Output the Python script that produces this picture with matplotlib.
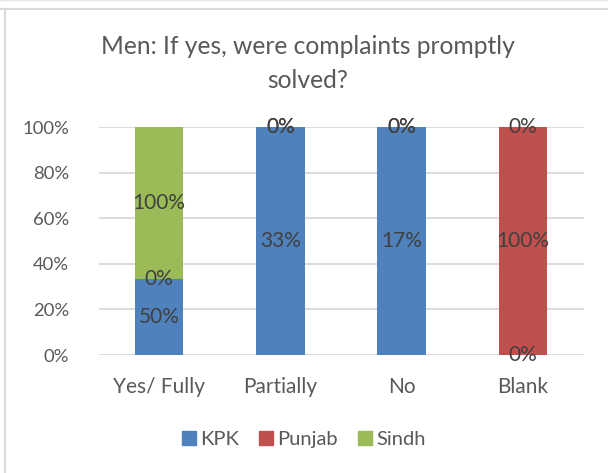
import matplotlib
matplotlib.use("Agg")
import matplotlib.pyplot as plt
import numpy as np
from matplotlib.lines import Line2D

categories = ["Yes/ Fully", "Partially", "No", "Blank"]
series_names = ["KPK", "Punjab", "Sindh"]
kpk = [50, 33, 17, 0]
punjab = [0, 0, 0, 100]
sindh = [100, 0, 0, 0]
colors = ["#4F81BD", "#C0504D", "#9BBB59"]
y_ticks = [0, 20, 40, 60, 80, 100]

plt.rcParams['font.family'] = ['Lato', 'DejaVu Sans']

fig = plt.figure(figsize=(6.08, 4.73), dpi=100)
ax = fig.add_axes([98.5/608, 1-355/473, (583.6-98.5)/608, (355-127)/473])

raw = np.array([kpk, punjab, sindh], dtype=float)
tot = raw.sum(axis=0)
share = raw / tot * 100
x = np.arange(len(categories))
bottom = np.zeros(len(categories))
for name, vals, sh, c in zip(series_names, raw, share, colors):
    ax.bar(x, sh, 0.4, bottom=bottom, color=c, zorder=3, label=name)
    for xi, b, h, v in zip(x, bottom, sh, vals):
        ax.text(xi, b + h/2, f"{v:.0f}%", ha='center', va='center',
                fontsize=15, color='#404040', zorder=4)
    bottom += sh

ax.set_xlim(-0.5, len(categories) - 0.5)
ax.set_ylim(0, 100)
ax.set_yticks(y_ticks)
ax.set_yticklabels([f"{t}%" for t in y_ticks])
ax.set_xticks(x)
ax.set_xticklabels(categories)
ax.tick_params(axis='y', length=0, pad=21, labelsize=13.3, labelcolor='#595959')
ax.tick_params(axis='x', length=0, pad=16, labelsize=15, labelcolor='#595959')
for s in ax.spines.values():
    s.set_visible(False)
ax.grid(axis='y', color='#D9D9D9', linewidth=1.3, zorder=0)
ax.set_axisbelow(True)

fig.text(308/608, 1-47/473, "Men: If yes, were complaints promptly", ha='center', va='center',
         fontsize=17.7, color='#595959')
fig.text(308/608, 1-80/473, "solved?", ha='center', va='center', fontsize=17.7, color='#595959')

handles = [Line2D([0], [0], marker='s', linestyle='none', markersize=10,
                  markerfacecolor=c, markeredgecolor=c) for c in colors]
fig.legend(handles, series_names, loc='center', bbox_to_anchor=(0.5, 1-439/473), ncol=3,
           frameon=False, fontsize=14.5, labelcolor='#595959', handletextpad=0.2,
           columnspacing=1.0, handlelength=0.7)

fig.add_artist(Line2D([0, 1], [1-9/473, 1-9/473], color='#D9D9D9', linewidth=1.5, transform=fig.transFigure))
fig.add_artist(Line2D([4.5/608, 4.5/608], [0, 1-9/473], color='#D9D9D9', linewidth=1.5, transform=fig.transFigure))
fig.add_artist(Line2D([0, 1], [1-0.5/473, 1-0.5/473], color='#E6E6E6', linewidth=1, transform=fig.transFigure))

fig.savefig("out.png", dpi=100)
